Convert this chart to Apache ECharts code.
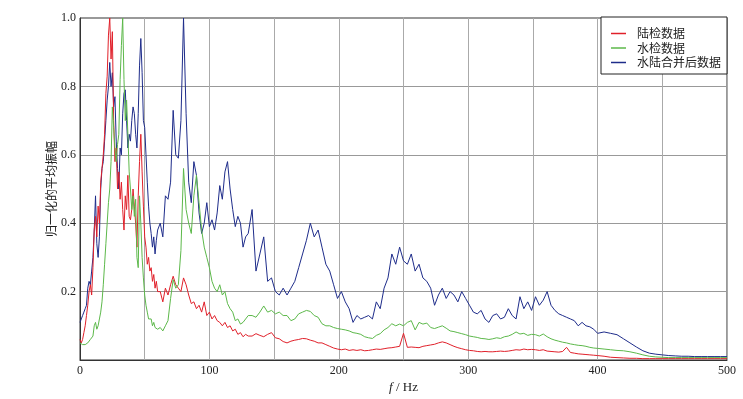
<!DOCTYPE html>
<html><head><meta charset="utf-8">
<script src="https://cdn.jsdelivr.net/npm/echarts@6/dist/echarts.min.js"></script>
<style>html,body{margin:0;padding:0;background:#fff}#c{width:743px;height:399px}</style>
</head><body><div id="c"></div>
<script>
const freq = [
0,1,2,3,4,5,6,7,8,9,10,11,12,13,14,15,16,17,18,19,20,21,22,23,24,25,26,27,28,29,30,
31,32,33,34,35,36,37,38,39,40,41,42,43,44,45,46,47,48,49,50,51,52,53,54,55,56,57,58,59,60,
62,64,66,68,70,72,74,76,78,80,82,84,86,88,90,92,94,96,98,100,
102,104,106,108,110,112,114,116,118,120,122,124,126,128,130,
133,136,139,142,145,148,151,154,157,160,163,166,169,172,175,178,181,184,187,190,
193,196,199,202,205,208,211,214,217,220,223,226,229,232,235,238,241,244,247,250,
253,256,259,262,265,268,271,274,277,280,283,286,289,292,295,298,301,304,307,310,
313,316,319,322,325,328,331,334,337,340,343,346,349,352,355,358,361,364,367,370,
373,376,379,382,385,388,391,394,397,400,
405,410,415,420,425,430,435,440,445,450,455,460,465,470,475,480,485,490,495,500];

const landData = [
0.06,0.05,0.06,0.08,0.10,0.13,0.16,0.20,0.22,0.19,
0.27,0.38,0.42,0.36,0.45,0.40,0.52,0.56,0.60,0.66,
0.78,0.83,0.95,1.0,0.88,0.96,0.70,0.58,0.62,0.50,
0.55,0.47,0.52,0.44,0.38,0.48,0.44,0.54,0.42,0.41,
0.44,0.50,0.45,0.40,0.33,0.48,0.58,0.66,0.55,0.45,
0.36,0.33,0.28,0.30,0.26,0.27,0.23,0.25,0.21,0.23,
0.20,
0.20,0.17,0.21,0.19,0.22,0.245,0.22,0.21,0.20,0.24,
0.22,0.19,0.165,0.17,0.15,0.16,0.14,0.17,0.13,0.14,
0.12,0.13,0.115,0.11,0.10,0.11,0.095,0.10,0.085,0.09,
0.075,0.08,0.068,0.075,0.07,
0.07,0.077,0.072,0.068,0.075,0.08,0.065,0.062,0.054,0.05,
0.055,0.058,0.06,0.063,0.062,0.058,0.055,0.05,0.05,0.045,
0.04,0.035,0.032,0.03,0.032,0.028,0.03,0.028,0.03,0.027,
0.028,0.03,0.032,0.031,0.033,0.035,0.036,0.038,0.04,0.078,
0.037,0.038,0.037,0.036,0.04,0.042,0.044,0.046,0.05,0.053,
0.05,0.045,0.04,0.036,0.033,0.03,0.028,0.027,0.025,0.024,
0.025,0.024,0.024,0.025,0.026,0.025,0.026,0.028,0.03,0.029,
0.032,0.03,0.031,0.03,0.028,0.03,0.026,0.025,0.024,0.023,
0.025,0.037,0.022,0.02,0.018,0.017,0.016,0.015,0.014,0.013,
0.011,0.008,0.007,0.006,0.005,0.005,0.004,0.004,0.004,0.004,
0.004,0.004,0.004,0.004,0.004,0.004,0.004,0.004,0.004,0.004];

const waterData = [
0.05,0.045,0.045,0.045,0.045,0.048,0.05,0.055,0.06,0.065,
0.07,0.10,0.11,0.09,0.10,0.12,0.14,0.17,0.22,0.28,
0.34,0.40,0.46,0.50,0.58,0.74,0.68,0.62,0.58,0.63,
0.66,0.82,0.92,1.0,0.82,0.70,0.76,0.66,0.55,0.50,
0.44,0.48,0.42,0.47,0.30,0.27,0.48,0.40,0.30,0.24,
0.19,0.16,0.14,0.12,0.115,0.12,0.10,0.11,0.095,0.10,
0.09,
0.095,0.085,0.10,0.115,0.18,0.235,0.21,0.22,0.32,0.56,
0.44,0.40,0.37,0.48,0.54,0.46,0.38,0.33,0.30,0.27,
0.23,0.21,0.20,0.22,0.19,0.20,0.165,0.15,0.14,0.115,
0.12,0.105,0.11,0.12,0.13,
0.13,0.125,0.14,0.158,0.14,0.145,0.135,0.14,0.13,0.13,
0.115,0.12,0.135,0.14,0.145,0.142,0.13,0.125,0.106,0.10,
0.10,0.095,0.092,0.09,0.088,0.085,0.08,0.078,0.075,0.068,
0.065,0.063,0.072,0.077,0.088,0.095,0.106,0.10,0.105,0.10,
0.11,0.115,0.088,0.11,0.105,0.108,0.095,0.092,0.096,0.10,
0.093,0.085,0.083,0.08,0.077,0.074,0.07,0.068,0.066,0.063,
0.062,0.06,0.062,0.065,0.063,0.068,0.07,0.075,0.082,0.076,
0.078,0.072,0.075,0.074,0.07,0.076,0.068,0.062,0.058,0.055,
0.052,0.05,0.047,0.045,0.043,0.042,0.04,0.037,0.035,0.034,
0.032,0.03,0.028,0.027,0.024,0.02,0.015,0.011,0.009,0.008,
0.007,0.007,0.007,0.007,0.007,0.007,0.007,0.007,0.007,0.007];

const mergedData = [
0.11,0.12,0.13,0.14,0.15,0.16,0.21,0.23,0.22,0.26,
0.30,0.38,0.48,0.34,0.30,0.36,0.50,0.56,0.58,0.64,
0.70,0.76,0.80,0.87,0.80,0.84,0.74,0.77,0.64,0.56,
0.50,0.62,0.60,0.72,0.78,0.79,0.70,0.62,0.66,0.64,
0.70,0.74,0.72,0.66,0.62,0.72,0.86,0.94,0.84,0.70,
0.68,0.60,0.52,0.45,0.40,0.37,0.33,0.36,0.31,0.35,
0.38,
0.40,0.36,0.48,0.47,0.52,0.73,0.60,0.59,0.70,1.0,
0.72,0.52,0.46,0.58,0.54,0.43,0.37,0.40,0.46,0.39,
0.41,0.38,0.43,0.51,0.47,0.55,0.58,0.50,0.44,0.39,
0.42,0.40,0.33,0.36,0.37,
0.44,0.26,0.31,0.36,0.23,0.24,0.20,0.19,0.21,0.19,
0.21,0.23,0.27,0.31,0.35,0.40,0.36,0.38,0.33,0.28,
0.26,0.22,0.18,0.20,0.17,0.15,0.11,0.13,0.12,0.125,
0.13,0.12,0.17,0.15,0.21,0.24,0.31,0.28,0.33,0.29,
0.28,0.31,0.26,0.28,0.24,0.23,0.21,0.16,0.19,0.21,
0.18,0.20,0.19,0.17,0.20,0.18,0.16,0.14,0.135,0.145,
0.12,0.11,0.13,0.135,0.12,0.125,0.15,0.13,0.12,0.185,
0.15,0.17,0.145,0.185,0.16,0.175,0.20,0.16,0.145,0.135,
0.13,0.125,0.12,0.115,0.10,0.11,0.10,0.097,0.09,0.078,
0.082,0.078,0.074,0.062,0.05,0.038,0.027,0.02,0.017,0.015,
0.013,0.012,0.011,0.011,0.01,0.01,0.01,0.01,0.01,0.01];

const seriesNames = ['陆检数据', '水检数据', '水陆合并后数据'];
const seriesColors = ['#e0202a', '#5cb84a', '#1e2c8a'];
const xName = '{i|f} / Hz';
const yName = '归一化的平均振幅';

const serif = 'Liberation Serif, Times New Roman, serif';
const cjk = 'Noto Sans CJK SC, sans-serif';

function pairs(arr) { return freq.map((f, i) => [f, arr[i]]); }

const chart = echarts.init(document.getElementById('c'), null, {renderer: 'canvas'});
const allData = [landData, waterData, mergedData];
const order = [2, 0, 1];
chart.setOption({
  animation: false,
  backgroundColor: '#fff',
  grid: {left: 80, width: 647, top: 18, height: 347, show: true, borderColor: '#333', borderWidth: 1, containLabel: false},
  legend: {
    data: seriesNames.map((n, k) => ({name: n, itemStyle: {color: seriesColors[k]}})),
    orient: 'vertical',
    left: 601, top: 17,
    padding: [10, 6, 5, 10],
    itemGap: 1.5,
    itemWidth: 15, itemHeight: 1.5,
    icon: 'rect',
    backgroundColor: '#fff',
    borderColor: '#222', borderWidth: 1, borderRadius: 0,
    textStyle: {fontFamily: cjk, fontSize: 12, color: '#222', padding: [0, 0, 0, 6], lineHeight: 13, height: 13}
  },
  xAxis: {
    type: 'value', min: 0, max: 500, interval: 50,
    name: xName, nameLocation: 'middle', nameGap: 21, nameMoveOverlap: false,
    nameTextStyle: {fontFamily: serif, fontSize: 13, color: '#222',
      rich: {i: {fontFamily: serif, fontStyle: 'italic', fontSize: 13, color: '#222'}}},
    axisLine: {lineStyle: {color: '#333', width: 1}},
    axisTick: {show: false},
    axisLabel: {fontFamily: serif, fontSize: 12, color: '#222', margin: 5,
      formatter: v => (v % 100 === 0 ? String(v) : '')},
    splitLine: {show: true, lineStyle: {color: '#aaa', width: 1}}
  },
  yAxis: {
    type: 'value', min: 0, max: 1, interval: 0.2,
    name: yName, nameLocation: 'middle', nameGap: 23, nameRotate: 90, nameMoveOverlap: false,
    nameTextStyle: {fontFamily: cjk, fontSize: 12, color: '#222'},
    axisLine: {show: true, lineStyle: {color: '#333', width: 1}},
    axisTick: {show: false},
    axisLabel: {fontFamily: serif, fontSize: 12, color: '#222', margin: 4,
      formatter: v => (v === 0 ? '' : v.toFixed(1))},
    splitLine: {show: true, lineStyle: {color: '#999', width: 1}}
  },
  series: order.map(k => ({
    name: seriesNames[k], type: 'line', showSymbol: false, symbol: 'none',
    data: pairs(allData[k]),
    lineStyle: {color: seriesColors[k], width: 1},
    itemStyle: {color: seriesColors[k]},
    emphasis: {disabled: true}
  }))
});
</script></body></html>
